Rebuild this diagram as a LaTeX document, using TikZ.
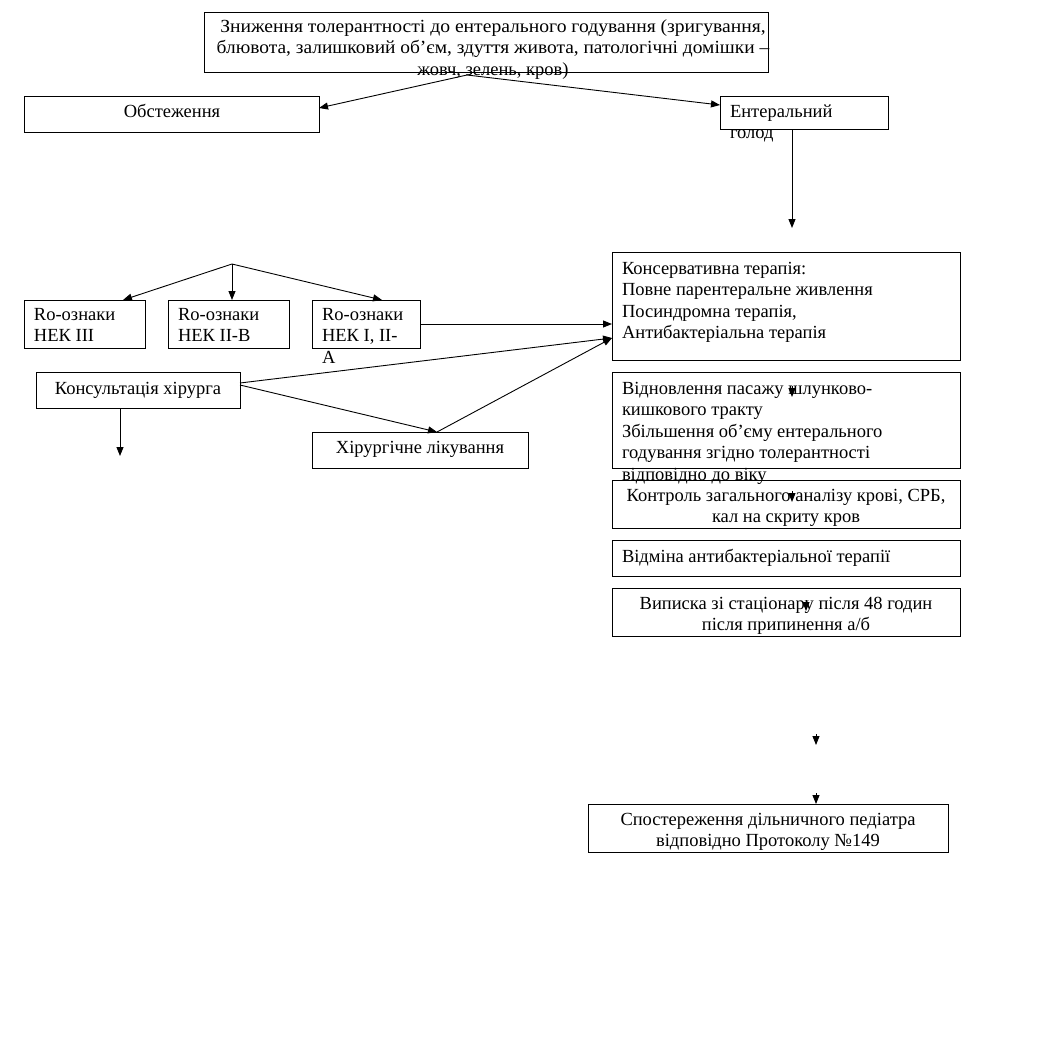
\documentclass[tikz,border=0pt]{standalone}
\usepackage{fontspec}
\setmainfont{Liberation Serif}
\usetikzlibrary{arrows.meta}
\begin{document}
\begin{tikzpicture}[x=1pt,y=-1pt,
  box/.style={draw,line width=0.9pt,inner sep=0pt,outer sep=0pt,rectangle},
  txt/.style={inner sep=0pt,outer sep=0pt,font=\fontsize{18.5}{21.5}\selectfont},
  arr/.style={line width=0.9pt,-{Triangle[length=9pt,width=7pt]}},
  ln/.style={line width=0.9pt}]
\useasboundingbox (0,0) rectangle (1045,1045);
% boxes
\node[box,minimum width=564pt,minimum height=60pt] (top) at (486,42) {};
\node[box,minimum width=295pt,minimum height=36pt] (obs) at (171.5,114) {};
\node[box,minimum width=168pt,minimum height=33pt] (ent) at (804,112.5) {};
\node[box,minimum width=121pt,minimum height=48pt] (nek3) at (84.5,324) {};
\node[box,minimum width=121pt,minimum height=48pt] (nek2) at (228.5,324) {};
\node[box,minimum width=108pt,minimum height=48pt] (nek1) at (366,324) {};
\node[box,minimum width=204pt,minimum height=36pt] (kons) at (138,390) {};
\node[box,minimum width=216pt,minimum height=36pt] (hir) at (420,450) {};
\node[box,minimum width=348pt,minimum height=108pt] (cons) at (786,306) {};
\node[box,minimum width=348pt,minimum height=96pt] (vidn) at (786,420) {};
\node[box,minimum width=348pt,minimum height=48pt] (kontr) at (786,504) {};
\node[box,minimum width=348pt,minimum height=36pt] (vidm) at (786,558) {};
\node[box,minimum width=348pt,minimum height=48pt] (vyp) at (786,612) {};
\node[box,minimum width=360pt,minimum height=48pt] (spost) at (768,828) {};
% texts
\node[txt,anchor=north,align=center] (ttop) at (493,17) {\strut\scalebox{1.06}[1]{Зниження толерантності до ентерального годування (зригування,}\\\scalebox{1.05}[1]{блювота, залишковий об’єм, здуття живота, патологічні домішки –}\\жовч, зелень, кров)};
\node[txt,anchor=north] (tobs) at (172,102) {\strut Обстеження};
\node[txt,anchor=north west,align=left] (tent) at (730,102) {\strut Ентеральний\\голод};
\node[txt,anchor=north west,align=left] (tnek3) at (34,305) {\strut Ro-ознаки\\НЕК ІІІ};
\node[txt,anchor=north west,align=left] (tnek2) at (178,305) {\strut Ro-ознаки\\НЕК ІІ-В};
\node[txt,anchor=north west,align=left] (tnek1) at (322,305) {\strut Ro-ознаки\\НЕК І, ІІ-\\А};
\node[txt,anchor=north] (tkons) at (138,379) {\strut Консультація хірурга};
\node[txt,anchor=north] (thir) at (420,438) {\strut Хірургічне лікування};
\node[txt,anchor=north west,align=left] (tcons) at (622,259) {\strut Консервативна терапія:\\Повне парентеральне живлення\\Посиндромна терапія,\\Антибактеріальна терапія};
\node[txt,anchor=north west,align=left] (tvidn) at (622,379) {\strut Відновлення пасажу шлунково-\\кишкового тракту\\Збільшення об’єму ентерального\\годування згідно толерантності\\відповідно до віку};
\node[txt,anchor=north,align=center] (tkontr) at (786,486) {\strut Контроль загального аналізу крові, СРБ,\\кал на скриту кров};
\node[txt,anchor=north west,align=left] (tvidm) at (622,547) {\strut Відміна антибактеріальної терапії};
\node[txt,anchor=north,align=center] (tvyp) at (786,594) {\strut Виписка зі стаціонару після 48 годин\\після припинення а/б};
\node[txt,anchor=north,align=center] (tspost) at (768,810) {\strut Спостереження дільничного педіатра\\відповідно Протоколу №149};
% free ends
\coordinate (t0) at (467,75);
\coordinate (e1) at (792,228);
\coordinate (f0) at (232,264);
\coordinate (k1) at (120,456);
\coordinate (s1a) at (792,386); \coordinate (s1b) at (792,397);
\coordinate (s2a) at (792,491); \coordinate (s2b) at (792,502);
\coordinate (s3a) at (806,600); \coordinate (s3b) at (806,611);
\coordinate (s4a) at (816,734); \coordinate (s4b) at (816,745);
\coordinate (s5a) at (816,793);
% connectors
\draw[arr] (t0) -- ([yshift=6pt]obs.east);
\draw[arr] (t0) -- ([yshift=7.5pt]ent.west);
\draw[arr] ([xshift=-12pt]ent.south) -- (e1);
\draw[arr] (f0) -- ([xshift=38.5pt]nek3.north);
\draw[arr] (f0) -- ([xshift=3.5pt]nek2.north);
\draw[arr] (f0) -- ([xshift=16pt]nek1.north);
\draw[arr] (nek1.east) -- ([yshift=-18pt]cons.west);
\draw[arr] ([yshift=7pt]kons.east) -- ([yshift=-32pt]cons.west);
\draw[arr] ([yshift=5pt]kons.east) -- ([xshift=17pt]hir.north);
\draw[arr] ([xshift=17pt]hir.north) -- ([yshift=-32pt]cons.west);
\draw[arr] ([xshift=-18pt]kons.south) -- (k1);
\draw[arr] (s1a) -- (s1b);
\draw[arr] (s2a) -- (s2b);
\draw[arr] (s3a) -- (s3b);
\draw[arr] (s4a) -- (s4b);
\draw[arr] (s5a) -- ([xshift=48pt]spost.north);
\end{tikzpicture}
\end{document}
